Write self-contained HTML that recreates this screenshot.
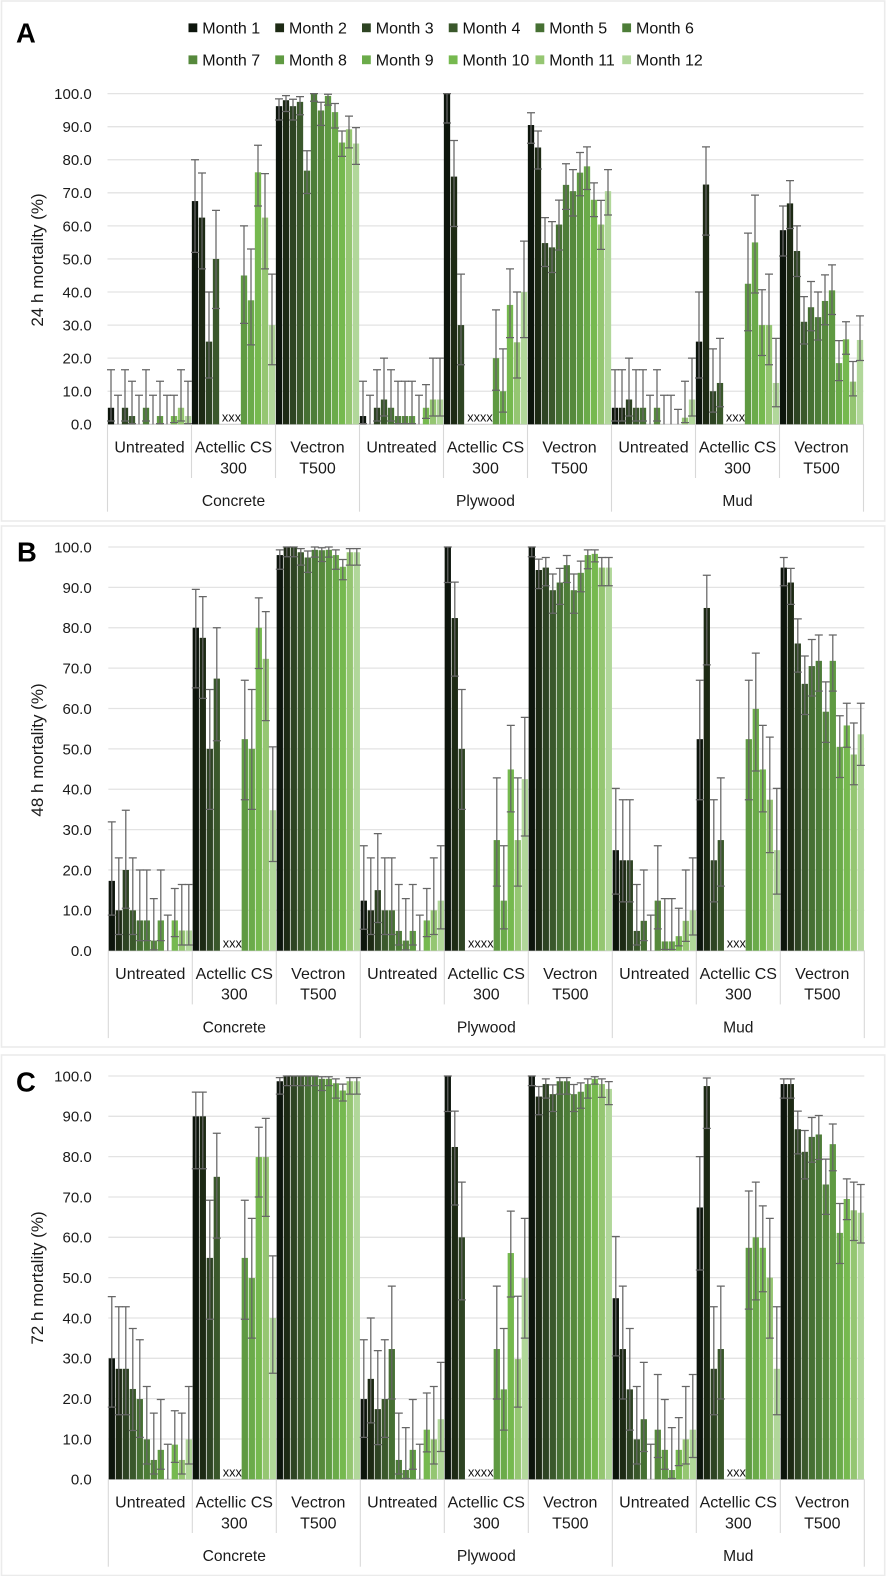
<!DOCTYPE html>
<html lang="en">
<head>
<meta charset="utf-8">
<title>Mortality by month, treatment and substrate</title>
<style>
html,body{margin:0;padding:0;background:#fff;}
svg{display:block;font-family:"Liberation Sans",sans-serif;}
</style>
</head>
<body>
<svg id="chart" width="886" height="1576" viewBox="0 0 886 1576" xmlns="http://www.w3.org/2000/svg"></svg>
<script>
const months = ["Month 1","Month 2","Month 3","Month 4","Month 5","Month 6","Month 7","Month 8","Month 9","Month 10","Month 11","Month 12"];
const monthColors = ["#0d150c","#1d2a14","#2e4423","#3a582b","#467033","#4d7d38","#56893c","#5f9a42","#6bab4a","#76b94f","#95c672","#b1d79a"];
const treatments = [["Untreated"],["Actellic CS","300"],["Vectron","T500"]];
const substrates = ["Concrete","Plywood","Mud"];
const yTicks = ["0.0","10.0","20.0","30.0","40.0","50.0","60.0","70.0","80.0","90.0","100.0"];

const meanA = [
[5,0,5,2.5,0,5,0,2.5,0,2.5,5,2.5],
[67.5,62.5,25,50,null,null,null,45,37.5,76.2,62.5,30],
[96.2,98,96.2,97.5,76.7,100,94.9,99.3,94.4,85.2,89.2,84.9],
[2.5,0,5,7.5,5,2.5,2.5,2.5,0,5,7.5,7.5],
[100,74.9,30,null,null,null,null,20,10,36.1,24.8,40],
[90.5,83.7,54.8,53.5,60.4,72.4,70.5,76.1,78,67.9,60.4,70.5],
[5,5,7.5,5,5,0,5,0,0,0,2,7.5],
[25,72.5,10,12.5,null,null,null,42.5,55,30,30,12.5],
[58.7,66.8,52.4,31,35.4,32.4,37.3,40.5,18.5,25.7,12.9,25.5]
];
const upperA = [
[16.5,8.8,16.5,13,8.8,16.5,8.8,13,8.8,8.8,16.5,13],
[80,76,40,64.7,null,null,null,60,53,84.4,75.8,45.4],
[98.4,99.4,98.3,99.1,82.7,100,97.4,99.8,97,88.7,93.2,89.7],
[13,8.8,16.5,20,16.5,13,13,13,8.8,12,20,20],
[100,85.8,45.4,null,null,null,null,34.6,22.8,47,40,55.4],
[94.2,88.7,62.5,61.3,67.8,78.8,77,82.2,83.9,73,67.7,77],
[16.5,16.5,20,16.5,16.5,8.8,16.5,8.8,8.8,4.5,13,20],
[40,83.9,22.8,26,null,null,null,57.8,69.3,40.7,45.4,26],
[66,73.7,60,38.6,43.2,40,45.2,48.2,25.3,31,19,32.8]
];
const lowerA = [
[1,0,1,0.2,0,1,0,0.2,0,0.5,1,0.2],
[52,47,14,35,null,null,null,30.5,24,66,47,18],
[92,94.6,92,93.6,69.8,97.7,90.4,96.5,89.6,81,83.6,78.6],
[0.2,0,1,2.5,1,0.2,0.2,0.2,0,1.8,2.5,2.5],
[91.1,59.8,18,null,null,null,null,10.3,3.7,26.2,14,26.2],
[85,77.2,47.7,45.9,52.7,65,63,69.1,71,62.8,52.9,63.3],
[1,1,2.5,1,1,0,1,0,0,0,0.5,2.5],
[14,57.2,3.7,5.3,null,null,null,28.3,39.7,20.8,18,5.3],
[50.9,59.2,44.7,24.3,28.3,25.5,30.1,33.2,13.2,21.2,8.6,19.3]
];

const meanB = [
[17.3,10,20,10,7.5,7.5,2.5,7.5,0,7.5,5,5],
[80,77.5,50,67.4,null,null,null,52.4,50,80,72.3,34.8],
[98,100,100,98.7,97.4,99.3,99.2,99.3,98,95.1,98.7,98.7],
[12.4,10,15,10,10,4.9,2.5,4.9,0,7.5,10,12.4],
[100,82.4,50,null,null,null,null,27.4,12.4,44.9,27.4,42.5],
[100,94.3,94.9,89.3,91.2,95.5,89.3,93.6,98,98.3,94.9,94.9],
[24.9,22.4,22.4,4.9,7.4,0,12.4,2.3,2.3,3.6,7.4,10],
[52.4,84.9,22.4,27.4,null,null,null,52.4,59.9,44.9,37.4,24.9],
[94.9,91.2,76.1,66.1,70.5,71.8,59.2,71.8,50.5,55.8,48.6,53.6]
];
const upperB = [
[31.9,23,34.8,23,20,20,12.9,20,8.8,15.4,16.4,16.4],
[89.5,87.7,64.7,80,null,null,null,67,64.7,87.4,84,50.5],
[99.3,100,100,99.6,99,100,99.8,100,99.3,96.9,99.6,99.6],
[26,23,29,23,23,16.4,12.9,16.4,8.8,15.4,23,26],
[100,91.3,64.7,null,null,null,null,42.8,26,55.8,42.8,57.8],
[100,97,97.4,93.3,94.7,97.9,93.3,96.5,99.3,99.3,97.4,97.4],
[40.2,37.4,37.4,16.4,20,8.8,26,12.9,12.9,10.5,20,23],
[67,93,37.4,42.8,null,null,null,67,73.7,55.8,52.9,40.2],
[97.4,94.7,82.2,73,77.1,78.2,66.6,78.2,58.2,61.3,56.4,61.3]
];
const lowerB = [
[8.8,4,10.5,4,2.5,2.5,0.2,2.5,0,3.5,1.4,1.4],
[65.1,62.5,35,52,null,null,null,37.4,35,69.9,57,22.1],
[94.5,97.6,97.6,95.5,93.7,97.5,96.4,97.5,94.5,91.9,95.5,95.5],
[5.3,4,7,4,4,1.4,0.2,1.4,0,3.5,4,5.4],
[91.2,68,35,null,null,null,null,16,5.4,34.4,16,28.4],
[97.6,89.7,90.4,83.6,85.8,91.2,83.6,88.9,94.6,96.3,90.4,90.4],
[14,12.1,12.1,1.4,2.5,0,5.4,0.3,0.3,1.2,2.3,3.9],
[37.4,70.8,12.1,16,null,null,null,37.4,44.5,34.4,24.3,14],
[90.4,85.8,69,58.5,63.1,64.3,51.6,64.3,42.9,50.4,41.1,45.9]
];

const meanC = [
[30,27.4,27.4,22.4,19.9,9.9,4.8,7.3,0,8.6,4.8,9.9],
[90,90,54.9,75,null,null,null,54.9,49.9,79.9,79.9,40],
[98.7,100,100,100,100,100,99.3,99.3,98.2,96.4,98.7,98.7],
[19.9,24.9,17.4,19.9,32.3,4.8,2.3,7.3,0,12.3,9.9,14.9],
[100,82.4,60,null,null,null,null,32.3,22.3,56.1,29.8,49.9],
[100,94.9,98,95.5,98.7,98.7,95.5,96.1,98,99.3,98,96.8],
[44.9,32.3,22.3,9.9,14.9,0,12.3,7.3,2.3,7.3,9.9,12.3],
[67.4,97.5,27.4,32.3,null,null,null,57.4,60,57.4,50,27.4],
[98,98,86.8,81.2,84.9,85.5,73.1,83.1,61.1,69.5,66.7,66.1]
];
const upperC = [
[45.3,42.8,42.8,37.4,34.6,23,16.4,19.8,8.7,17,16.4,23],
[96,96,69.2,85.8,null,null,null,69.2,64.7,87.3,89.5,55.4],
[99.6,100,100,100,100,100,99.8,99.8,99.3,98,99.6,99.6],
[34.6,40,31.9,34.6,47.9,16.4,12.8,19.8,8.7,21.4,23,29],
[100,91.3,73.7,null,null,null,null,47.9,37.4,66.5,45.4,64.7],
[100,97.4,99.3,97.8,99.6,99.6,97.9,98.3,99.3,99.8,99.3,98.6],
[60.2,47.9,37.4,23,29,8.7,26,19.8,12.8,15.3,23,26],
[80,99.5,42.8,47.9,null,null,null,71.5,73.7,67.8,64.7,42.8],
[99.3,99.3,91.3,86.5,89.7,90.2,79.4,88.1,68.4,74.5,73.7,73.1]
];
const lowerC = [
[17.9,16,16,12.1,10.4,3.8,1.3,2.5,0,4.2,1.3,3.8],
[77,77,39.7,59.8,null,null,null,39.7,35,70,65.2,26.3],
[95.5,97.6,97.6,97.6,97.6,97.6,96.4,97.6,94.5,93.8,95.5,95.5],
[10.4,14,8.6,10.4,19.9,1.3,0.2,2.5,0,6.8,3.8,6.9],
[91.2,68,44.5,null,null,null,null,19.9,12.2,45.2,17.9,35],
[97.6,90.4,94.5,91.2,95.5,95.5,91.2,92,94.5,98,94.7,92.9],
[30.6,19.9,12.2,3.8,6.9,0,5.4,2.5,0.2,3.4,3.8,5.4],
[51.9,87,16,19.9,null,null,null,42.2,44.5,46.5,35,16],
[94.5,94.5,80.7,74.5,78.6,79.3,65.7,76.5,53.5,64.4,59.2,58.6]
];

const layoutA = {letter:"A",title:"24 h mortality (%)",x0:107.5,yTop:93.6,yZero:424.3,box:[1.5,1,883.2,520],letterX:16,letterY:42.3,titleY:260};
const layoutB = {letter:"B",title:"48 h mortality (%)",x0:108.3,yTop:547,yZero:950.7,box:[1.5,526,883.2,521],letterX:17,letterY:561.7,titleY:750};
const layoutC = {letter:"C",title:"72 h mortality (%)",x0:108.3,yTop:1076,yZero:1479.3,box:[1.5,1055,883.2,520.5],letterX:16,letterY:1091.5,titleY:1278};

const NS = "http://www.w3.org/2000/svg";
const svg = document.getElementById("chart");
const GROUP_W = 84, BAR_PITCH = 7, BAR_W = 6.3, CAP_HALF = 4;

function mk(tag, attrs, parent){
  const el = document.createElementNS(NS, tag);
  for (const k in attrs) el.setAttribute(k, attrs[k]);
  (parent || svg).appendChild(el);
  return el;
}

function drawPanel(layout, mean, upper, lower, id){
  const g = mk("g", {});
  
  

  const yOf = v => layout.yZero - v * (layout.yZero - layout.yTop) / 100;
  const xStart = (gi) => layout.x0 + GROUP_W * gi;
  const barCenter = (gi, mi) => xStart(gi) + BAR_PITCH * mi + BAR_PITCH / 2;
  const xEnd = xStart(mean.length);

  const box = mk("rect", {x:layout.box[0], y:layout.box[1], width:layout.box[2], height:layout.box[3], fill:"#fff", stroke:"#ebebeb", "stroke-width":1.6}, g);
  
  

  const letter = mk("text", {x:layout.letterX, y:layout.letterY, "font-size":27.4, "font-weight":"bold", fill:"#000"}, g);
  letter.textContent = layout.letter;
  
  

  yTicks.forEach((t, i) => {
    const v = parseFloat(t);
    const y = yOf(v);
    const grid = mk("line", {x1:layout.x0, x2:xEnd, y1:y, y2:y, stroke: i === 0 ? "#d6d6d6" : "#e3e3e3", "stroke-width":1.3}, g);
    
    
    const lab = mk("text", {x:91.7, y:y + 5.4, "font-size":15, "text-anchor":"end", fill:"#1a1a1a"}, g);
    lab.textContent = t;
    
    
  });

  const title = mk("text", {transform:"translate(43," + layout.titleY + ") rotate(-90)", "font-size":17, "text-anchor":"middle", fill:"#1a1a1a"}, g);
  title.textContent = layout.title;
  
  

  mean.forEach((row, gi) => {
    row.forEach((v, mi) => {
      if (v === null || v === 0) return;
      const top = yOf(v);
      const bar = mk("rect", {x:barCenter(gi, mi) - BAR_W / 2, y:top, width:BAR_W, height:layout.yZero - top, fill:monthColors[mi]}, g);
      
      
    });
  });

  mean.forEach((row, gi) => {
    row.forEach((v, mi) => {
      if (v === null) return;
      const cx = barCenter(gi, mi);
      const yHi = yOf(upper[gi][mi]);
      const yLo = yOf(lower[gi][mi]);
      const err = mk("path", {
        d: "M" + cx + " " + yHi + "V" + yLo +
           "M" + (cx - CAP_HALF) + " " + yHi + "H" + (cx + CAP_HALF) +
           (v === 0 ? "" : "M" + (cx - CAP_HALF) + " " + yLo + "H" + (cx + CAP_HALF)),
        fill:"none", stroke:"#666", "stroke-width":1.25
      }, g);
      
      
    });
    const nulls = row.map((v, i) => v === null ? i : -1).filter(i => i >= 0);
    if (nulls.length) {
      const mid = (barCenter(gi, nulls[0]) + barCenter(gi, nulls[nulls.length - 1])) / 2 + 1.5;
      const marks = mk("text", {x:mid, y:layout.yZero - 3, "font-size":12.8, "text-anchor":"middle", fill:"#111"}, g);
      marks.textContent = "x".repeat(nulls.length);
      
      
    }
  });

  for (let gi = 0; gi <= mean.length; gi++) {
    const x = xStart(gi);
    const isSub = gi % 3 === 0;
    const sep = mk("line", {x1:x, x2:x, y1:layout.yZero, y2:layout.yZero + (isSub ? 87.4 : 53.7), stroke:"#d8d8d8", "stroke-width":1.1}, g);
    
    
  }
  for (let gi = 0; gi < mean.length; gi++) {
    const lines = treatments[gi % 3];
    lines.forEach((line, li) => {
      const t = mk("text", {x:xStart(gi) + GROUP_W / 2, y:layout.yZero + 28.4 + li * 20.6, "font-size":16, "text-anchor":"middle", fill:"#1a1a1a"}, g);
      t.textContent = line;
      
      
    });
  }
  substrates.forEach((s, si) => {
    const t = mk("text", {x:xStart(si * 3) + GROUP_W * 1.5, y:layout.yZero + 81.7, "font-size":15.6, "text-anchor":"middle", fill:"#1a1a1a"}, g);
    t.textContent = s;
    
    
  });
}

drawPanel(layoutA, meanA, upperA, lowerA, "a");
drawPanel(layoutB, meanB, upperB, lowerB, "b");
drawPanel(layoutC, meanC, upperC, lowerC, "c");

const legend = mk("g", {});


months.forEach((m, i) => {
  const col = i % 6, rowIdx = Math.floor(i / 6);
  const lx = 188.5 + col * 86.75;
  const ly = 27.8 + rowIdx * 32;
  const entry = mk("g", {}, legend);
  
  
  const sw = mk("rect", {x:lx, y:ly - 4.4, width:8.8, height:8.8, fill:monthColors[i]}, entry);
  
  
  const t = mk("text", {x:lx + 13.8, y:ly + 5.7, "font-size":16, fill:"#111"}, entry);
  t.textContent = m;
  
  
});
</script>
</body>
</html>
